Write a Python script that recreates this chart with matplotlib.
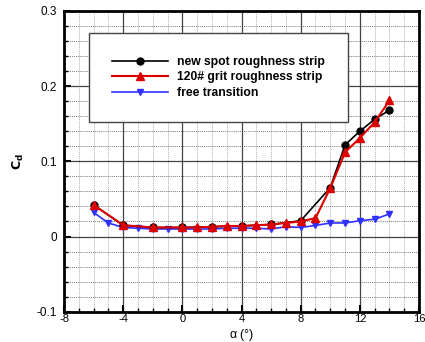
import matplotlib
matplotlib.use('Agg')
import matplotlib.pyplot as plt
import numpy as np
from matplotlib.ticker import MultipleLocator

plt.rcParams['font.family'] = ['Liberation Sans', 'DejaVu Sans']

# new spot roughness strip
alpha_spot = [-6, -4, -2, 0, 2, 4, 6, 8, 10, 11, 12, 13, 14]
cd_spot = [0.042, 0.015, 0.012, 0.012, 0.013, 0.014, 0.016, 0.021, 0.065, 0.122, 0.140, 0.156, 0.168]

# 120# grit roughness strip
alpha_grit = [-6, -4, -2, 0, 1, 2, 3, 4, 5, 6, 7, 8, 9, 10, 11, 12, 13, 14]
cd_grit = [0.042, 0.015, 0.012, 0.012, 0.012, 0.013, 0.014, 0.014, 0.015, 0.016, 0.018, 0.020,
           0.0245, 0.0645, 0.112, 0.131, 0.152, 0.181]

# free transition
alpha_free = list(range(-6, 15))
cd_free = [0.032, 0.018, 0.012, 0.011, 0.010, 0.010, 0.010, 0.010, 0.010, 0.011, 0.011,
           0.011, 0.010, 0.013, 0.012, 0.0147, 0.018, 0.018, 0.021, 0.023, 0.030]

xticks = [-8, -4, 0, 4, 8, 12, 16]
yticks = [-0.1, 0, 0.1, 0.2, 0.3]
ytick_labels = ['-0.1', '0', '0.1', '0.2', '0.3']

fig = plt.figure(figsize=(4.25, 3.42), dpi=100)
ax = fig.add_axes([0.1506, 0.0886, 0.8354, 0.8794])

ax.set_xlim(-8, 16)
ax.set_ylim(-0.1, 0.3)
ax.set_xticks(xticks)
ax.set_xticklabels([str(t) for t in xticks])
ax.set_yticks(yticks)
ax.set_yticklabels(ytick_labels)
ax.xaxis.set_minor_locator(MultipleLocator(1))
ax.yaxis.set_minor_locator(MultipleLocator(0.02))

# grid: dotted minor, solid major
ax.grid(which='minor', axis='x', color='#b0b0b0', linestyle=(0, (1, 1)), linewidth=0.7)
ax.grid(which='minor', axis='y', color='#333333', linestyle=(0, (1, 1.5)), linewidth=0.55)
ax.grid(which='major', color='#444444', linestyle='-', linewidth=0.9)
ax.set_axisbelow(True)

ax.plot(alpha_free, cd_free, color='#3030ff', linewidth=1.2, marker='v', markersize=4,
        label='free transition', zorder=3)
ax.plot(alpha_spot, cd_spot, color='black', linewidth=1.2, marker='o', markersize=5,
        label='new spot roughness strip', zorder=4)
ax.plot(alpha_grit, cd_grit, color='#dd0000', linewidth=1.5, marker='^', markersize=5.5,
        label='120# grit roughness strip', zorder=5)

handles, labels = ax.get_legend_handles_labels()
order = [1, 2, 0]
leg = ax.legend([handles[i] for i in order], [labels[i] for i in order],
                loc='upper left', bbox_to_anchor=(0.0704, 0.927), borderaxespad=0,
                fancybox=False, framealpha=1, edgecolor='#444444',
                prop={'weight': 'bold', 'size': 8.7},
                borderpad=1.9, handlelength=4.6, labelspacing=0.3, handletextpad=0.8)
leg.get_frame().set_linewidth(1.0)

for s in ax.spines.values():
    s.set_linewidth(2)
ax.tick_params(which='major', direction='in', length=5, width=1.5, labelsize=8.5, pad=2)
ax.tick_params(axis='y', which='major', pad=5)
ax.tick_params(which='minor', direction='in', length=3, width=1)
for lab in ax.get_xticklabels():
    lab.set_fontsize(8)

ax.set_xlabel(r'$\mathregular{\alpha}$ (°)', fontsize=9)
ax.xaxis.set_label_coords(0.5, -0.05)
ax.set_ylabel(r'$\mathbf{C_d}$', fontsize=9, labelpad=8)

plt.savefig('out.png', dpi=100)
